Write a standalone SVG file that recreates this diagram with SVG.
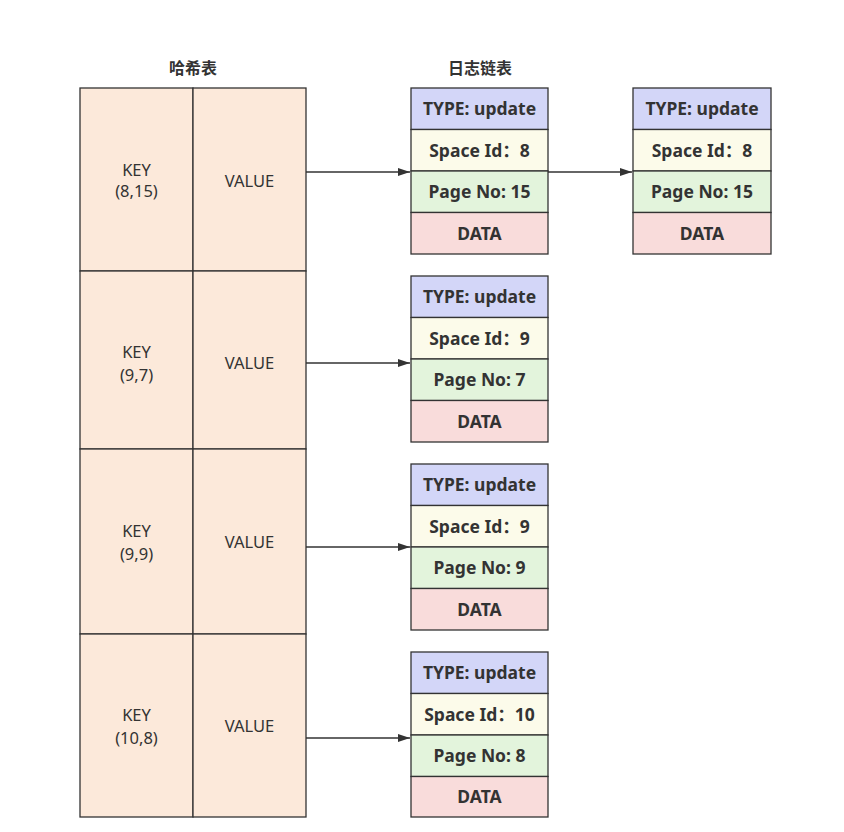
<svg xmlns="http://www.w3.org/2000/svg" width="844" height="832" viewBox="0 0 844 832">
<defs>
<marker id="ah" markerWidth="13" markerHeight="10" refX="12" refY="5" orient="auto" markerUnits="userSpaceOnUse">
<path d="M0,1 L12,5 L0,9 Z" fill="#333"/>
</marker>
</defs>
<style>
.hc{fill:#fce9da;stroke:#333;stroke-width:1.3}
.t{fill:#d3d6f8;stroke:#333;stroke-width:1.3}
.s{fill:#fcfbea;stroke:#333;stroke-width:1.3}
.p{fill:#e3f4dc;stroke:#333;stroke-width:1.3}
.d{fill:#f9dcdb;stroke:#333;stroke-width:1.3}
.lab{font-family:"Noto Sans","Noto Sans CJK SC",sans-serif;font-size:16.5px;fill:#333;text-anchor:middle}
.b{font-family:"Noto Sans","Noto Sans CJK SC",sans-serif;font-size:17.5px;font-weight:bold;fill:#333;text-anchor:middle}
.title{font-family:"Noto Sans CJK SC",sans-serif;font-size:16px;font-weight:bold;fill:#333;text-anchor:middle}
.c{stroke:#333;stroke-width:1.3;fill:none}
</style>
<rect width="844" height="832" fill="#fff"/>
<text class="title" x="193" y="74">哈希表</text>
<text class="title" x="480" y="74">日志链表</text>

<g id="hash-row1">
<rect class="hc" x="80" y="88" width="113" height="183"/>
<rect class="hc" x="193" y="88" width="113" height="183"/>
<text class="lab" x="136.5" y="176">KEY</text>
<text class="lab" x="136.5" y="197">(8,15)</text>
<text class="lab" x="249.5" y="187">VALUE</text>
</g>
<g id="hash-row2">
<rect class="hc" x="80" y="271" width="113" height="178"/>
<rect class="hc" x="193" y="271" width="113" height="178"/>
<text class="lab" x="136.5" y="358">KEY</text>
<text class="lab" x="136.5" y="381">(9,7)</text>
<text class="lab" x="249.5" y="369">VALUE</text>
</g>
<g id="hash-row3">
<rect class="hc" x="80" y="449" width="113" height="185"/>
<rect class="hc" x="193" y="449" width="113" height="185"/>
<text class="lab" x="136.5" y="537">KEY</text>
<text class="lab" x="136.5" y="560">(9,9)</text>
<text class="lab" x="249.5" y="548">VALUE</text>
</g>
<g id="hash-row4">
<rect class="hc" x="80" y="634" width="113" height="183"/>
<rect class="hc" x="193" y="634" width="113" height="183"/>
<text class="lab" x="136.5" y="721">KEY</text>
<text class="lab" x="136.5" y="744">(10,8)</text>
<text class="lab" x="249.5" y="732">VALUE</text>
</g>

<g id="log1">
<rect class="t" x="411" y="88" width="137" height="41.5"/>
<rect class="s" x="411" y="129.5" width="137" height="41.5"/>
<rect class="p" x="411" y="171" width="137" height="41.5"/>
<rect class="d" x="411" y="212.5" width="137" height="41.5"/>
<text class="b" x="479.5" y="115">TYPE: update</text>
<text class="b" x="479.5" y="156.5">Space Id：8</text>
<text class="b" x="479.5" y="198">Page No: 15</text>
<text class="b" x="479.5" y="239.5">DATA</text>
</g>
<g id="log1b">
<rect class="t" x="633" y="88" width="138" height="41.5"/>
<rect class="s" x="633" y="129.5" width="138" height="41.5"/>
<rect class="p" x="633" y="171" width="138" height="41.5"/>
<rect class="d" x="633" y="212.5" width="138" height="41.5"/>
<text class="b" x="702" y="115">TYPE: update</text>
<text class="b" x="702" y="156.5">Space Id：8</text>
<text class="b" x="702" y="198">Page No: 15</text>
<text class="b" x="702" y="239.5">DATA</text>
</g>
<g id="log2">
<rect class="t" x="411" y="276" width="137" height="41.5"/>
<rect class="s" x="411" y="317.5" width="137" height="41.5"/>
<rect class="p" x="411" y="359" width="137" height="41.5"/>
<rect class="d" x="411" y="400.5" width="137" height="41.5"/>
<text class="b" x="479.5" y="303">TYPE: update</text>
<text class="b" x="479.5" y="344.5">Space Id：9</text>
<text class="b" x="479.5" y="386">Page No: 7</text>
<text class="b" x="479.5" y="427.5">DATA</text>
</g>
<g id="log3">
<rect class="t" x="411" y="464" width="137" height="41.5"/>
<rect class="s" x="411" y="505.5" width="137" height="41.5"/>
<rect class="p" x="411" y="547" width="137" height="41.5"/>
<rect class="d" x="411" y="588.5" width="137" height="41.5"/>
<text class="b" x="479.5" y="491">TYPE: update</text>
<text class="b" x="479.5" y="532.5">Space Id：9</text>
<text class="b" x="479.5" y="574">Page No: 9</text>
<text class="b" x="479.5" y="615.5">DATA</text>
</g>
<g id="log4">
<rect class="t" x="411" y="652" width="137" height="41.5"/>
<rect class="s" x="411" y="693.5" width="137" height="41.5"/>
<rect class="p" x="411" y="735" width="137" height="41.5"/>
<rect class="d" x="411" y="776.5" width="137" height="40.5"/>
<text class="b" x="479.5" y="679">TYPE: update</text>
<text class="b" x="479.5" y="720.5">Space Id：10</text>
<text class="b" x="479.5" y="762">Page No: 8</text>
<text class="b" x="479.5" y="803">DATA</text>
</g>

<g id="connectors">
<line class="c" x1="306" y1="172" x2="410" y2="172" marker-end="url(#ah)"/>
<line class="c" x1="548" y1="172" x2="632" y2="172" marker-end="url(#ah)"/>
<line class="c" x1="306" y1="363" x2="410" y2="363" marker-end="url(#ah)"/>
<line class="c" x1="306" y1="547" x2="410" y2="547" marker-end="url(#ah)"/>
<line class="c" x1="306" y1="738" x2="410" y2="738" marker-end="url(#ah)"/>
</g>
</svg>
